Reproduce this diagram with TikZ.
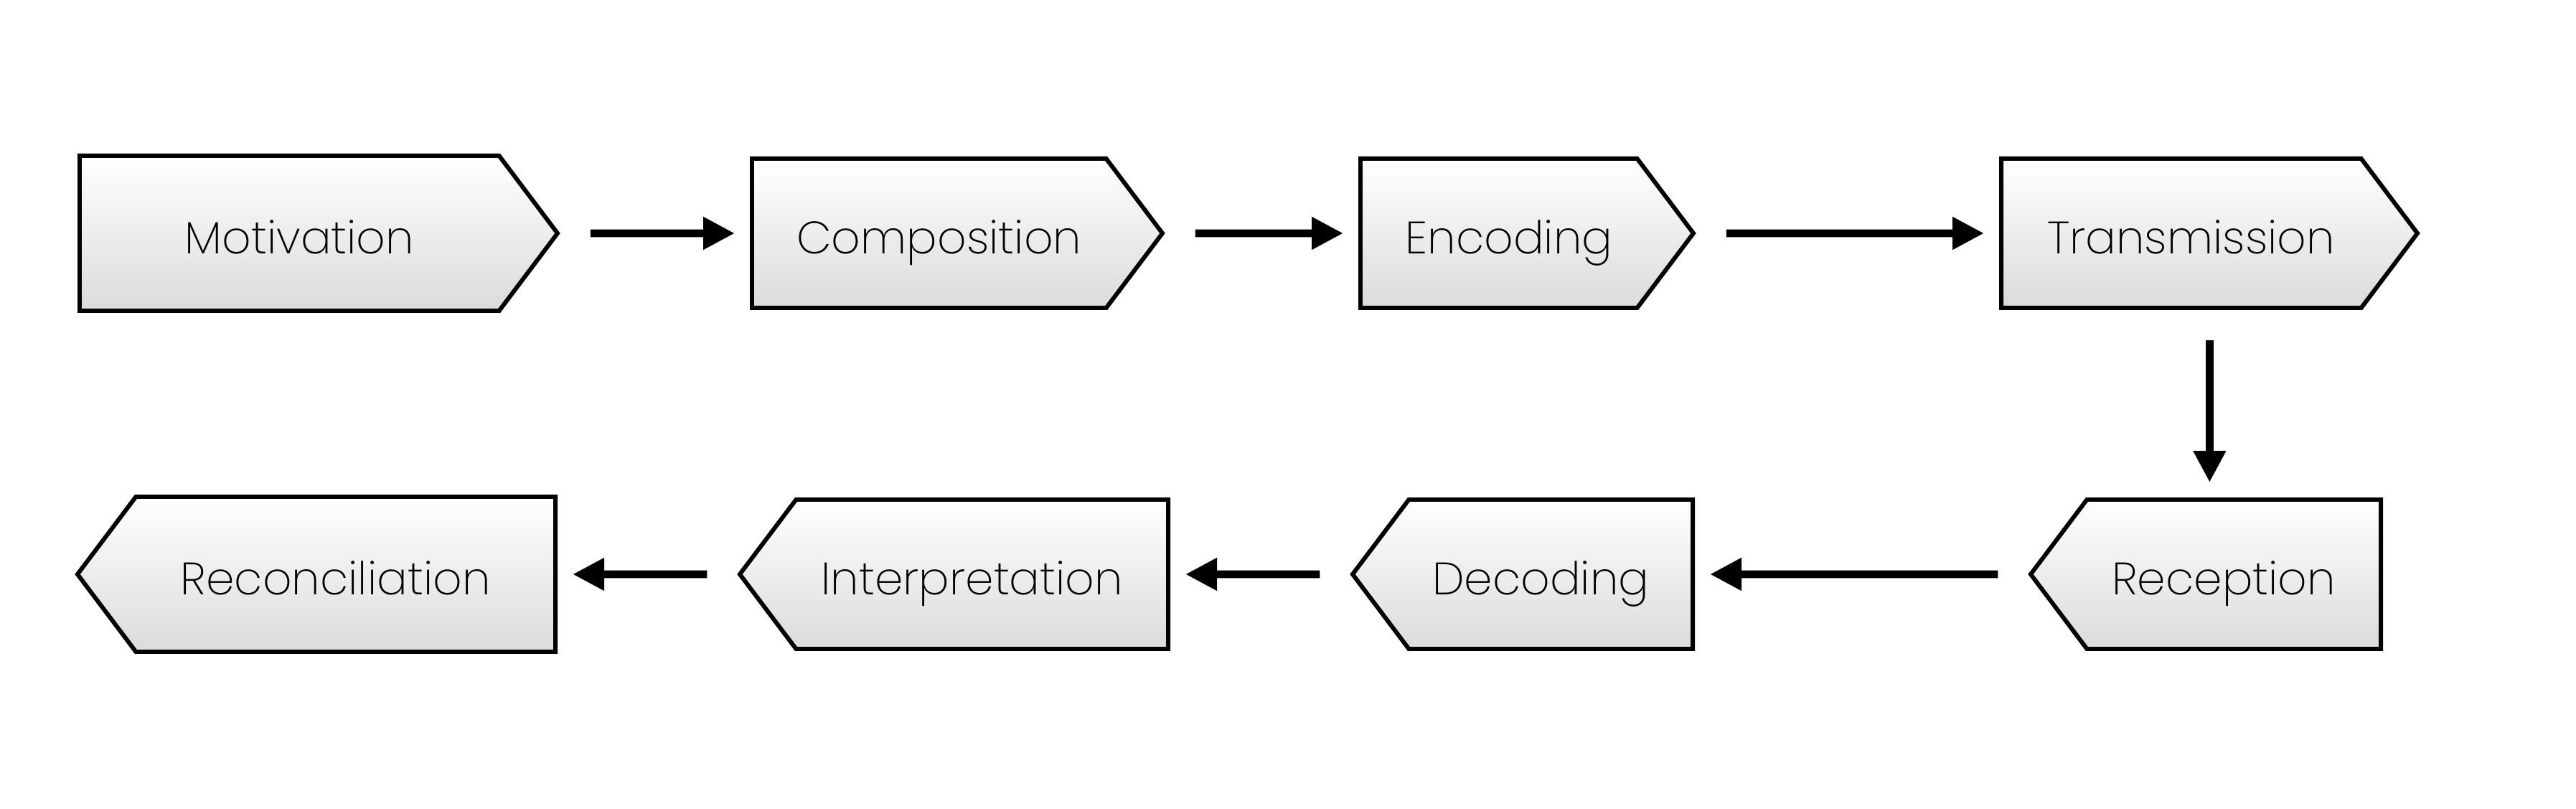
\documentclass[tikz,border=0pt]{standalone}
\usepackage{fontspec}
\setmainfont{Poppins}[UprightFont=* ExtraLight]
\usetikzlibrary{shapes.symbols,arrows.meta,calc}

\tikzset{
  stage/.style={draw, line width=1.7pt, shape=signal, signal pointer angle=106,
    top color=white, bottom color=black!14, minimum height=2.08cm, inner sep=0pt,
    text height=0.58cm, text depth=0cm, font=\fontsize{18}{20}\selectfont},
  fwd/.style={stage, signal to=east, anchor=west,
    execute at begin node={\hspace*{0.28cm}}},
  bwd/.style={stage, signal to=west, anchor=east,
    execute at end node={\hspace*{0.28cm}}},
  flow/.style={line width=3.1pt, -{Triangle[length=0.44cm,width=0.43cm]},
    shorten <=0.42cm, shorten >=0.21cm}
}

\begin{document}
\begin{tikzpicture}
    \useasboundingbox (0,0) rectangle (35.9,-11.27);

    % top row, left to right
    \node[fwd, minimum height=2.16cm, minimum width=6.66cm] (MO) at (1.08, -3.25) {Motivation};
    \node[fwd, minimum width=5.72cm] (CO) at (10.45, -3.25) {Composition};
    \node[fwd, minimum width=4.64cm] (EN) at (18.93, -3.25) {Encoding};
    \node[fwd, minimum width=5.80cm] (TR) at (27.86, -3.25) {Transmission};

    % bottom row, right to left
    \node[bwd, minimum width=4.88cm] (RE) at (33.21, -8.00) {Reception};
    \node[bwd, minimum width=4.74cm] (DE) at (23.62, -8.00) {Decoding};
    \node[bwd, minimum width=5.97cm] (IN) at (16.31, -8.00) {Interpretation};
    \node[bwd, minimum height=2.16cm, minimum width=6.66cm] (RC) at (7.77, -8.00) {Reconciliation};

    \coordinate (turn) at ($(TR.west)!0.5!(TR.east)$);

    \draw[flow] (MO) -- (CO);
    \draw[flow] (CO) -- (EN);
    \draw[flow] (EN) -- (TR);
    \draw[flow] (TR.south -| turn) -- (RE.north -| turn);
    \draw[flow] (RE) -- (DE);
    \draw[flow] (DE) -- (IN);
    \draw[flow] (IN) -- (RC);
\end{tikzpicture}
\end{document}
